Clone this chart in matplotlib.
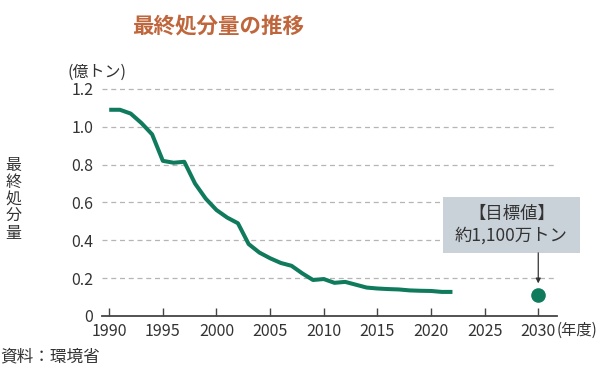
import matplotlib
matplotlib.use("Agg")
import matplotlib.pyplot as plt
from matplotlib.patches import Rectangle

plt.rcParams['font.family'] = ['Noto Sans CJK JP', 'DejaVu Sans']

years = list(range(1990, 2023))
values = [1.09, 1.09, 1.07, 1.02, 0.96, 0.82, 0.81, 0.815, 0.70, 0.62, 0.56, 0.52,
          0.49, 0.38, 0.335, 0.305, 0.28, 0.265, 0.225, 0.19, 0.195, 0.175, 0.18,
          0.165, 0.15, 0.145, 0.142, 0.14, 0.135, 0.133, 0.132, 0.127, 0.127]
target_year = 2030
target_value = 0.11
xticks = [1990, 1995, 2000, 2005, 2010, 2015, 2020, 2025, 2030]
yticks = [0, 0.2, 0.4, 0.6, 0.8, 1.0, 1.2]
ytick_labels = ['0', '0.2', '0.4', '0.6', '0.8', '1.0', '1.2']

title = '最終処分量の推移'
ylabel = '最終処分量'
unit = '(億トン)'
xunit = '(年度)'
note = '【目標値】\n約1,100万トン'
source = '資料：環境省'

green = '#0f7a5c'
text_col = '#333333'

fig = plt.figure(figsize=(6.0, 3.77), dpi=100)
ax = fig.add_axes([0.1695, 0.162, 0.758, 0.602])

ax.plot(years, values, color=green, lw=2.9, solid_capstyle='butt', solid_joinstyle='round', zorder=3)
ax.plot([target_year], [target_value], 'o', color=green, ms=9.5, zorder=4, clip_on=False)

ax.set_xlim(1989.3, 2031.7)
ax.set_ylim(0, 1.2)
ax.set_xticks(xticks)
ax.set_yticks(yticks)
ax.set_yticklabels(ytick_labels)

for y in yticks[1:]:
    ax.axhline(y, color='#b5b5b5', lw=0.9, ls=(0, (4, 3)), zorder=1, clip_on=False)

for s in ['top', 'right', 'left']:
    ax.spines[s].set_visible(False)
ax.spines['bottom'].set_color('#444444')
ax.spines['bottom'].set_linewidth(1.3)
ax.tick_params(axis='x', direction='in', length=6, width=1.0, color='#444444',
               labelsize=11.5, labelcolor=text_col, pad=5)
ax.tick_params(axis='y', length=0, labelsize=11.5, labelcolor=text_col, pad=6)

# annotation box (pixel-derived layout in axes fraction)
bx0, bx1 = (443 - 101.7) / 454.3, (579 - 101.7) / 454.3
by0, by1 = (316 - 253) / 227, (316 - 197) / 227
ax.add_patch(Rectangle((bx0, by0), bx1 - bx0, by1 - by0, transform=ax.transAxes,
                       fc='#c9d1d9', ec='none', zorder=5, clip_on=False))
ax.text((bx0 + bx1) / 2, (by0 + by1) / 2, note, transform=ax.transAxes,
        ha='center', va='center', fontsize=12.5, color=text_col, linespacing=1.3, zorder=6)
ax.annotate('', xy=(target_year, 0.172), xytext=(target_year, (316 - 253) / 189),
            arrowprops=dict(arrowstyle='-|>', color='#333333', lw=0.9,
                            mutation_scale=7, shrinkA=0, shrinkB=0), zorder=6)

fig.text(0.363, 0.93, title, ha='center', va='center', fontsize=15.5,
         fontweight='bold', color='#c0663d')
fig.text(0.113, 0.808, unit, ha='left', va='center', fontsize=11.5, color=text_col)
fig.text(0.022, 0.47, '\n'.join(ylabel), ha='center', va='center', fontsize=11.5,
         color=text_col, linespacing=1.0)
fig.text(0.928, 0.125, xunit, ha='left', va='center', fontsize=11, color=text_col)
fig.text(0.0, 0.052, source, ha='left', va='center', fontsize=12, color=text_col)

fig.savefig('out.png', dpi=100)
